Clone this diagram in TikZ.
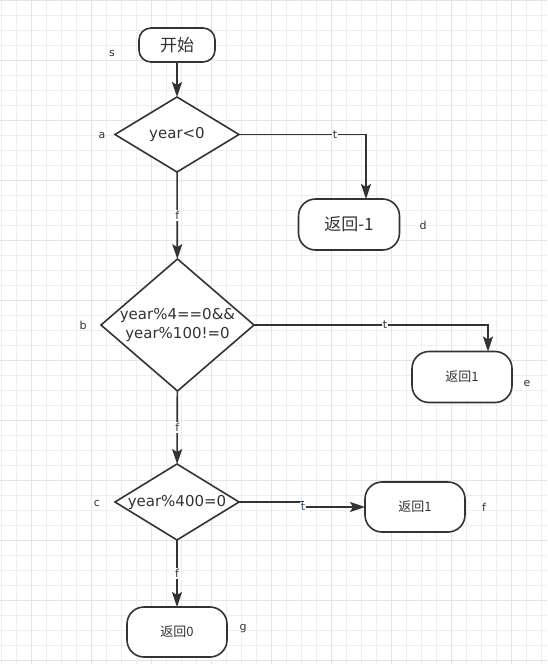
\documentclass[tikz,border=0pt]{standalone}
\usepackage{fontspec}
\setmainfont{DejaVu Sans}
\newfontfamily\cjk{Noto Sans CJK SC}
\usetikzlibrary{shapes.geometric,arrows.meta}
\definecolor{ink}{HTML}{333333}
\definecolor{gminor}{HTML}{EEEEEE}
\definecolor{gmajor}{HTML}{E4E4E4}
\definecolor{tblue}{HTML}{1F4E79}
\tikzset{
  gridminor/.style={draw=gminor,line width=0.8pt},
  gridmajor/.style={draw=gmajor,line width=0.8pt},
  term/.style={draw=ink,line width=1.6pt,fill=white,rectangle,inner sep=0pt,outer sep=0pt,text=ink},
  dec/.style={draw=ink,line width=1.6pt,fill=white,diamond,inner sep=0pt,outer sep=0pt,text=ink,font=\fontsize{15}{21}\selectfont},
  arr/.style={draw=ink,line width=1.6pt,-{Stealth[length=15pt,width=10pt,inset=3pt]}},
  lab/.style={fill=white,inner sep=1pt,text=ink,font=\fontsize{11}{13}\selectfont},
  tag/.style={text=ink,inner sep=0pt,font=\fontsize{11}{13}\selectfont},
  big/.style={font=\fontsize{17}{20}\selectfont},
  small/.style={font=\fontsize{13}{16}\selectfont}
}
\begin{document}
\begin{tikzpicture}[x=1pt,y=-1pt]
\useasboundingbox (0,0) rectangle (547,664);
\fill[white] (0,0) rectangle (547,664);
\foreach \x in {1,16,...,547} \draw[gridminor] (\x,0) -- (\x,664);
\foreach \y in {0,15,...,664} \draw[gridminor] (0,\y) -- (547,\y);
\foreach \x in {31,91,...,547} \draw[gridmajor] (\x,0) -- (\x,664);
\foreach \y in {0,60,...,664} \draw[gridmajor] (0,\y) -- (547,\y);

% nodes
\node[term,big,minimum width=76pt,minimum height=34pt,rounded corners=12pt] (s) at (177,45) {\cjk 开始};
\node[dec,minimum width=124pt,minimum height=75pt] (a) at (177,134.5) {\makebox[0pt]{year<0}};
\node[term,big,minimum width=101pt,minimum height=51pt,rounded corners=17pt] (d) at (349,224.5) {\cjk 返回-1};
\node[dec,minimum width=153pt,minimum height=132pt] (b) at (177.5,325) {\makebox[0pt]{\begin{tabular}{@{}c@{}}year\%4==0\&\&\\[-2pt]year\%100!=0\end{tabular}}};
\node[term,small,minimum width=100pt,minimum height=51pt,rounded corners=17pt] (e) at (462,377) {\cjk 返回1};
\node[dec,minimum width=124pt,minimum height=76pt] (c) at (177,502) {\makebox[0pt]{year\%400=0}};
\node[term,small,minimum width=100pt,minimum height=50pt,rounded corners=17pt] (f) at (415,507) {\cjk 返回1};
\node[term,small,minimum width=100pt,minimum height=50pt,rounded corners=17pt] (g) at (177,632) {\cjk 返回0};

% node tags
\node[tag] (ts) at (112,53) {s};
\node[tag] (ta) at (102,135) {a};
\node[tag] (tb) at (83,325) {b};
\node[tag] (tc) at (97,503) {c};
\node[tag] (td) at (423,225) {d};
\node[tag] (te) at (527,383) {e};
\node[tag] (tf) at (484,507) {f};
\node[tag] (tg) at (243,629) {g};

% connectors
\draw[arr] (s) -- (a);
\draw[arr] (a.east) -| node[lab,pos=0.378] {t} ([xshift=17pt]d.north);
\draw[arr] (a) -- node[lab] {f} (b);
\draw[arr] (b.east) -| node[lab,pos=0.28] {t} ([xshift=26pt]e.north);
\draw[arr] (b) -- node[lab] {f} (c);
\coordinate (cj) at (303,502);
\draw[arr] (c.east) -- (cj) |- node[lab,pos=0.5,text=tblue] {t} (f.west);
\draw[arr] (c) -- node[lab] {f} (g);
\end{tikzpicture}
\end{document}
